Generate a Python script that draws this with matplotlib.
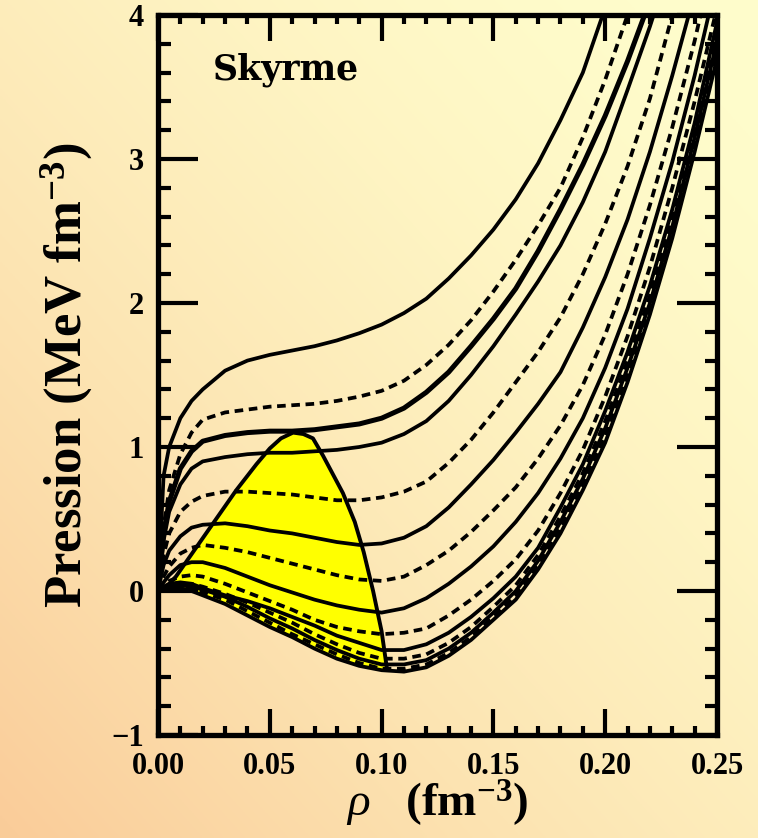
import numpy as np
import matplotlib
matplotlib.use('Agg')
import matplotlib.pyplot as plt
from matplotlib.ticker import MultipleLocator

plt.rcParams['font.family'] = 'Liberation Serif'
plt.rcParams['mathtext.fontset'] = 'custom'
plt.rcParams['mathtext.rm'] = 'Liberation Serif:bold'
plt.rcParams['mathtext.bf'] = 'Liberation Serif:bold'
plt.rcParams['mathtext.it'] = 'Liberation Serif:italic'

# density grid (fm^-3) shared by all isotherms
rho = [0, 0.0025, 0.005, 0.01, 0.015, 0.02, 0.03, 0.04, 0.05, 0.06, 0.07, 0.08, 0.09, 0.10,
       0.11, 0.12, 0.13, 0.14, 0.15, 0.16, 0.17, 0.18, 0.19, 0.20, 0.21, 0.22, 0.23, 0.24, 0.25]

# pressure (MeV fm^-3) of each isotherm, hottest first
p01 = [0, 0.80, 1.00, 1.20, 1.32, 1.40, 1.53, 1.60, 1.64, 1.67, 1.70, 1.74, 1.79, 1.85,
       1.93, 2.03, 2.17, 2.33, 2.51, 2.72, 2.97, 3.27, 3.60, 4.05, 4.60, 5.20, 5.90, 6.70, 7.60]
p02 = [0, 0.45, 0.70, 0.95, 1.10, 1.19, 1.24, 1.26, 1.28, 1.29, 1.30, 1.32, 1.35, 1.39,
       1.46, 1.57, 1.71, 1.88, 2.08, 2.30, 2.54, 2.80, 3.15, 3.55, 4.00, 4.50, 5.00, 5.60, 6.20]
p03 = [0, 0.40, 0.62, 0.85, 0.97, 1.04, 1.08, 1.10, 1.11, 1.11, 1.12, 1.14, 1.16, 1.20,
       1.27, 1.38, 1.52, 1.70, 1.89, 2.10, 2.36, 2.65, 2.96, 3.30, 3.68, 4.10, 4.60, 5.10, 5.70]
p04 = [0, 0.35, 0.55, 0.74, 0.85, 0.90, 0.93, 0.95, 0.96, 0.96, 0.97, 0.98, 1.00, 1.03,
       1.09, 1.18, 1.32, 1.50, 1.70, 1.92, 2.15, 2.40, 2.70, 3.05, 3.48, 3.92, 4.40, 4.90, 5.50]
p05 = [0, 0.25, 0.40, 0.55, 0.62, 0.66, 0.69, 0.69, 0.68, 0.67, 0.65, 0.63, 0.63, 0.65,
       0.69, 0.76, 0.89, 1.05, 1.24, 1.45, 1.66, 1.90, 2.20, 2.55, 2.95, 3.42, 4.00, 4.60, 5.20]
p06 = [0, 0.18, 0.28, 0.38, 0.44, 0.46, 0.47, 0.45, 0.42, 0.40, 0.37, 0.34, 0.32, 0.33,
       0.37, 0.45, 0.58, 0.74, 0.91, 1.10, 1.30, 1.52, 1.83, 2.18, 2.58, 3.05, 3.58, 4.15, 4.80]
p07 = [0, 0.10, 0.17, 0.26, 0.30, 0.32, 0.30, 0.27, 0.23, 0.19, 0.15, 0.11, 0.08, 0.07,
       0.10, 0.18, 0.28, 0.41, 0.56, 0.72, 0.92, 1.15, 1.43, 1.78, 2.20, 2.68, 3.22, 3.82, 4.50]
p08 = [0, 0.06, 0.11, 0.18, 0.20, 0.20, 0.16, 0.10, 0.04, -0.01, -0.06, -0.10, -0.13, -0.15,
       -0.12, -0.05, 0.05, 0.17, 0.31, 0.48, 0.68, 0.92, 1.20, 1.55, 1.96, 2.45, 2.98, 3.58, 4.25]
p09 = [0, 0.04, 0.07, 0.10, 0.11, 0.10, 0.05, -0.01, -0.07, -0.13, -0.20, -0.25, -0.28, -0.30,
       -0.29, -0.26, -0.17, -0.06, 0.07, 0.22, 0.42, 0.68, 0.98, 1.35, 1.77, 2.25, 2.80, 3.40, 4.05]
p10 = [0, 0.03, 0.05, 0.06, 0.05, 0.02, -0.03, -0.07, -0.12, -0.18, -0.24, -0.31, -0.36, -0.41,
       -0.41, -0.37, -0.29, -0.18, -0.05, 0.10, 0.30, 0.58, 0.88, 1.25, 1.66, 2.12, 2.65, 3.25, 3.95]
p11 = [0, 0.02, 0.04, 0.05, 0.05, 0.03, -0.02, -0.08, -0.15, -0.22, -0.30, -0.37, -0.43, -0.47,
       -0.47, -0.44, -0.36, -0.25, -0.11, 0.04, 0.25, 0.52, 0.82, 1.18, 1.60, 2.05, 2.58, 3.20, 3.90]
p12 = [0, 0.015, 0.03, 0.04, 0.03, 0.01, -0.04, -0.11, -0.19, -0.26, -0.34, -0.41, -0.47, -0.51,
       -0.51, -0.48, -0.40, -0.29, -0.15, 0.00, 0.21, 0.48, 0.78, 1.13, 1.55, 2.00, 2.53, 3.15, 3.82]
p13 = [0, 0.01, 0.02, 0.03, 0.02, -0.01, -0.06, -0.14, -0.22, -0.30, -0.37, -0.44, -0.50, -0.54,
       -0.54, -0.51, -0.43, -0.32, -0.18, -0.03, 0.18, 0.44, 0.74, 1.08, 1.50, 1.96, 2.48, 3.10, 3.76]
p14 = [0, 0.01, 0.015, 0.02, 0.00, -0.03, -0.09, -0.17, -0.25, -0.32, -0.40, -0.47, -0.52, -0.55,
       -0.56, -0.53, -0.45, -0.34, -0.20, -0.06, 0.15, 0.40, 0.70, 1.03, 1.45, 1.92, 2.45, 3.05, 3.70]

isotherms = [p01, p02, p03, p04, p05, p06, p07, p08, p09, p10, p11, p12, p13, p14]
dashed = [False, True, False, False, True, False, True, False, True, False, True, False, True, False]

# coexistence (binodal) curve
bin_rho = [0.003, 0.008, 0.017, 0.026, 0.035, 0.044, 0.050, 0.055, 0.0604, 0.065, 0.0693,
           0.0738, 0.0827, 0.088, 0.092, 0.0962, 0.100, 0.1024]
bin_p = [0.015, 0.10, 0.30, 0.50, 0.70, 0.88, 0.99, 1.06, 1.10, 1.09, 1.06,
         0.94, 0.68, 0.48, 0.27, 0.00, -0.28, -0.54]

fig = plt.figure(figsize=(7.58, 8.38), dpi=100)

# background gradient: peach bottom-left -> pale yellow top-right
bg = fig.add_axes([0, 0, 1, 1], zorder=-10)
u, v = np.meshgrid(np.linspace(0, 1, 300), np.linspace(0, 1, 300))
s = (((1 - u) + v) / 2) ** 1.6
yellow = np.array([1.0, 0.992, 0.80])
orange = np.array([0.98, 0.80, 0.60])
img = yellow[None, None, :] * (1 - s[..., None]) + orange[None, None, :] * s[..., None]
bg.imshow(img, aspect='auto', extent=[0, 1, 0, 1])
bg.axis('off')

ax = fig.add_axes([158 / 758, 103 / 838, 559 / 758, 720 / 838])
ax.set_facecolor('none')

# yellow coexistence region: binodal then back along the T=0 isotherm
low = [(r, p) for r, p in zip(rho, p14) if bin_rho[0] < r < bin_rho[-1]][::-1]
fill_x = bin_rho + [r for r, p in low]
fill_y = bin_p + [p for r, p in low]
ax.fill(fill_x, fill_y, color='#ffff00', zorder=1, lw=0)

for i, (p, d) in enumerate(zip(isotherms, dashed)):
    lw = 3.6 if i == 2 else 2.7
    if d:
        ax.plot(rho, p, color='black', lw=lw, ls=(0, (2.3, 1.5)), zorder=3,
                solid_joinstyle='round')
    else:
        ax.plot(rho, p, color='black', lw=lw, zorder=3, solid_joinstyle='round')

ax.plot(bin_rho, bin_p, color='black', lw=2.8, zorder=4)

ax.set_xlim(0, 0.25)
ax.set_ylim(-1, 4)
ax.xaxis.set_major_locator(MultipleLocator(0.05))
ax.xaxis.set_minor_locator(MultipleLocator(0.01))
ax.yaxis.set_major_locator(MultipleLocator(1))
ax.yaxis.set_minor_locator(MultipleLocator(0.2))
ax.set_xticks([0, 0.05, 0.10, 0.15, 0.20, 0.25])
ax.set_xticklabels(['0.00', '0.05', '0.10', '0.15', '0.20', '0.25'])

for sp in ax.spines.values():
    sp.set_linewidth(3.8)
ax.tick_params(which='both', direction='in', top=True, right=True, width=3)
ax.tick_params(axis='x', which='major', length=19, pad=12)
ax.tick_params(axis='x', which='minor', length=6.5)
ax.tick_params(axis='y', which='major', length=29, pad=10)
ax.tick_params(axis='y', which='minor', length=9)
for lab in ax.get_xticklabels() + ax.get_yticklabels():
    lab.set_fontsize(22)
    lab.set_fontweight('bold')

ax.set_ylabel(r'Pression (MeV fm$^{\mathbf{-3}}$)', fontsize=38, fontweight='bold', labelpad=12)
ax.set_xlabel(r'$\rho$   (fm$^{\mathbf{-3}}$)', fontsize=34, fontweight='bold', labelpad=-2)

ax.text(0.0246, 3.55, 'Skyrme', fontsize=25, fontweight='bold', family='DejaVu Serif',
        ha='left', va='baseline')

fig.savefig('out.png', dpi=100)
